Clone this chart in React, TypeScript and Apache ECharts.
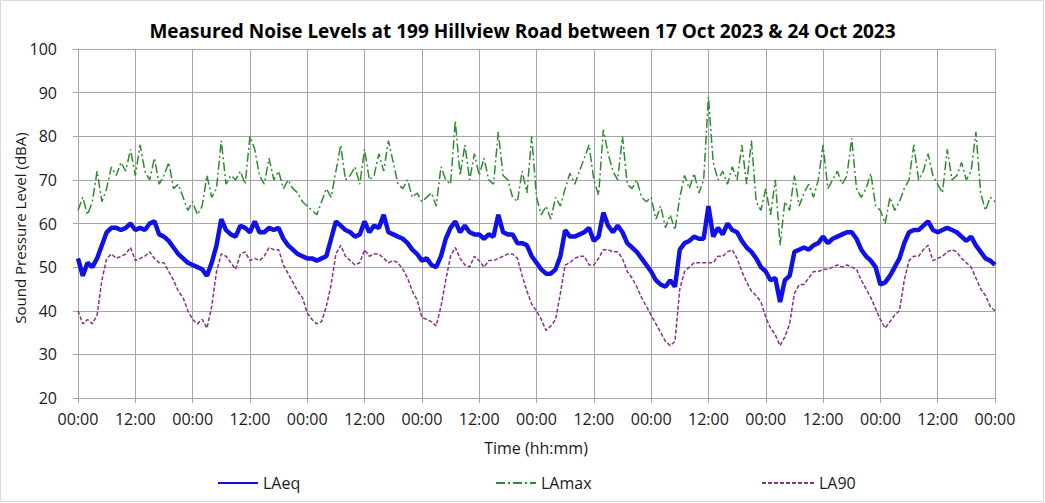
import React, { useEffect, useRef } from "react";
import * as echarts from "echarts";

const TITLE = "Measured Noise Levels at 199 Hillview Road between 17 Oct 2023 & 24 Oct 2023";
const Y_TITLE = "Sound Pressure Level (dBA)";
const X_TITLE = "Time (hh:mm)";
const seriesNames = ["LAeq", "LAmax", "LA90"];
const tickLabels = ["00:00", "12:00"];

// hourly values, 17 Oct 00:00 .. +192 h
const laeq = [
  52, 48, 51, 50, 52, 55, 58, 59, 59, 58.5, 59, 60, 58.5, 59, 58.5, 60, 60.5, 57.5, 57, 56, 54.5, 53, 52, 51,
  50.5, 50, 49.5, 48, 51, 55, 61, 58.5, 57.5, 57, 59.5, 59, 58, 60.5, 58, 58, 59, 58.5, 59, 56.5, 55, 54, 53, 52.5,
  52, 52, 51.5, 52, 52.5, 56.5, 60.5, 59.5, 58.5, 58, 57, 57.5, 60.5, 58, 59.5, 59, 62, 58, 57.5, 57, 56.5, 55.5, 54, 53,
  51.5, 52, 50.5, 50, 52.5, 56.5, 59, 60.5, 58, 59.5, 58, 57.5, 57.5, 56.5, 57.5, 57, 62, 58, 57.5, 57.5, 55.5, 55.5, 55, 52.5,
  51, 49.5, 48.5, 48.5, 49.5, 52.5, 58.5, 57, 57, 57.5, 58, 59, 56, 57, 62.5, 59.5, 58, 59.5, 58, 55.5, 54.5, 53.5, 52, 50.5,
  49, 47, 46, 45.5, 47, 45.5, 54, 55.5, 56, 57, 56.5, 56.5, 64, 57, 59, 57.5, 60, 58.5, 58, 56, 54.5, 53.5, 52, 50,
  49, 47, 47.5, 42, 47, 48, 53.5, 54, 54.5, 54, 55, 55.5, 57, 55.5, 56.5, 57, 57.5, 58, 58, 56.5, 54, 52.5, 51.5, 50,
  46, 46.5, 48, 50, 52, 55.5, 58, 58.5, 58.5, 59.5, 60.5, 58.5, 58, 58.5, 59, 58.5, 58, 57, 56, 57, 55, 53.5, 52, 51.5, 50.5,
];

const lamax = [
  63, 66, 62, 65, 72, 65, 68, 73, 71, 74, 72, 77, 71, 78, 72, 70, 75, 69, 71, 74, 68, 69, 66, 63,
  65, 62, 64, 71, 66, 68, 79, 69, 71, 70, 72, 69, 80, 77, 71, 69, 75, 70, 72, 68, 70, 68, 67, 65,
  64, 63, 62, 65, 68, 66, 72, 78, 70, 71, 73, 69, 77, 70, 71, 76, 72, 79, 74, 69, 68, 70, 66, 67,
  65, 66, 67, 64, 73, 70, 69, 83.5, 71, 78, 70, 76, 71, 75, 70, 69, 81, 71, 70, 66, 65, 72, 67, 80,
  66, 62, 64, 61, 66, 64, 68, 71.5, 69, 72, 75, 78, 70, 66.5, 81.5, 76, 72, 70, 80, 69, 68, 70, 66, 65,
  66, 61, 64, 59, 62, 58.5, 66, 71, 68, 71.5, 67, 70, 89, 74, 70, 72, 69, 73, 70, 78, 69, 79, 65, 63,
  68, 62, 70, 55, 65, 63, 71, 64, 67, 69, 66, 70, 78, 68, 70, 72, 69, 71, 79.5, 68, 66, 68, 71.5, 64,
  63, 60, 66, 63, 65, 68, 70, 78, 70, 72, 76, 71, 69, 67, 77, 70, 71, 74, 70, 72, 81, 67, 63, 66, 65,
];

const la90 = [
  40, 37, 38, 37, 39, 47, 52, 53, 52, 52.5, 53, 54.5, 51.5, 52, 52.5, 53.5, 52, 51, 51, 49, 47, 44.5, 43, 40,
  38, 37, 38, 36, 41, 49, 53, 52.5, 51, 49.5, 53, 53.5, 51.5, 52, 51.5, 52.5, 54.5, 54, 54, 50.5, 48.5, 46.5, 44.5, 43,
  39.5, 38, 37, 37.5, 41, 46, 53, 55, 52.5, 51.5, 50.5, 51, 54, 52.5, 53, 53, 52, 51, 51.5, 51, 49.5, 47.5, 44.5, 42.5,
  38.5, 38, 37.5, 36.5, 41, 47, 52.5, 54.5, 52, 50.5, 50, 52.5, 51.5, 50, 51.5, 51.5, 52, 52.5, 53, 53, 52, 48, 44.5, 41.5,
  40, 38, 35.5, 36.5, 38, 44, 50.5, 51, 52, 52.5, 52.5, 50.5, 50.5, 52, 54, 54, 53.5, 53.5, 52, 49, 47.5, 45.5, 43, 41,
  39, 37, 35, 33, 32, 33, 45, 49, 50, 51, 51, 51, 51, 51, 52.5, 52.5, 53.5, 54, 52, 49, 46.5, 44.5, 43.5, 42,
  38.5, 36, 34.5, 32, 34, 37, 44, 46, 46, 47.5, 49, 49, 49.5, 49.5, 50, 50.5, 50, 50.5, 50, 49.5, 47, 45, 43, 40.5,
  38, 36, 37.5, 39, 40, 47, 51.5, 52.5, 52.5, 54, 55, 51.5, 52, 52.5, 53.5, 54, 53.5, 52, 51, 50, 47.5, 45, 43.5, 41, 40,
];

const FONT = "'Open Sans', 'Noto Sans', sans-serif";

export default function App() {
  const ref = useRef<HTMLDivElement>(null);
  useEffect(() => {
    if (!ref.current) return;
    const chart = echarts.init(ref.current, null, { renderer: "svg" });
    const pairs = (arr: number[]) => arr.map((v, i) => [i, v]);
    const legendBase = {
      top: 470,
      itemHeight: 14,
      itemGap: 4,
      itemStyle: { opacity: 0, borderWidth: 0 },
      textStyle: { fontFamily: FONT, fontSize: 16, color: "#1a1a1a", padding: [0, 0, 0, 0] },
    };
    chart.setOption({
      animation: false,
      backgroundColor: "#ffffff",
      title: {
        text: TITLE,
        left: "center",
        top: 16,
        textStyle: { fontFamily: FONT, fontSize: 19, fontWeight: "bold", color: "#000" },
      },
      grid: { left: 78, right: 50, top: 49, bottom: 105 },
      legend: [
        { ...legendBase, data: [seriesNames[0]], left: 212, itemWidth: 40 },
        { ...legendBase, data: [seriesNames[1]], left: 490, itemWidth: 40 },
        { ...legendBase, data: [seriesNames[2]], left: 756, itemWidth: 52 },
      ],
      xAxis: {
        type: "value",
        min: 0,
        max: 192,
        interval: 12,
        axisLine: { show: true, lineStyle: { color: "#a6a6a6" } },
        axisTick: { show: true, length: 5, lineStyle: { color: "#a6a6a6" } },
        splitLine: { show: true, lineStyle: { color: "#a6a6a6", width: 1 } },
        axisLabel: {
          margin: 13,
          fontFamily: FONT,
          fontSize: 16,
          color: "#1a1a1a",
          showMinLabel: true,
          showMaxLabel: true,
          formatter: (v: number) => (v % 24 === 0 ? tickLabels[0] : tickLabels[1]),
        },
      },
      yAxis: {
        type: "value",
        min: 20,
        max: 100,
        interval: 10,
        axisLine: { show: true, lineStyle: { color: "#a6a6a6" } },
        axisTick: { show: true, length: 5, lineStyle: { color: "#a6a6a6" } },
        splitLine: { show: true, lineStyle: { color: "#a6a6a6", width: 1 } },
        axisLabel: { margin: 21, fontFamily: FONT, fontSize: 16, color: "#1a1a1a" },
      },
      graphic: [
        {
          type: "rect",
          shape: { x: 0.5, y: 0.5, width: 1043, height: 501 },
          style: { fill: "none", stroke: "#d9d9d9", lineWidth: 1 },
          silent: true,
        },
        {
          type: "text",
          x: 20,
          y: 228,
          rotation: Math.PI / 2,
          style: {
            text: Y_TITLE,
            fontFamily: FONT,
            fontSize: 15,
            fill: "#1a1a1a",
            align: "center",
            verticalAlign: "middle",
          },
        },
        {
          type: "text",
          x: 536,
          y: 448,
          style: {
            text: X_TITLE,
            fontFamily: FONT,
            fontSize: 16,
            fill: "#1a1a1a",
            align: "center",
            verticalAlign: "middle",
          },
        },
      ],
      series: [
        {
          name: seriesNames[0],
          type: "line",
          data: pairs(laeq),
          symbol: "none",
          z: 4,
          lineStyle: { color: "#1010e8", width: 4.5 },
          itemStyle: { color: "#1010e8" },
        },
        {
          name: seriesNames[1],
          type: "line",
          data: pairs(lamax),
          symbol: "none",
          z: 3,
          lineStyle: { color: "#2e8b2e", width: 1.5, type: [9, 3, 2, 3] },
          itemStyle: { color: "#2e8b2e" },
        },
        {
          name: seriesNames[2],
          type: "line",
          data: pairs(la90),
          symbol: "none",
          z: 3,
          lineStyle: { color: "#8a2f8c", width: 1.5, type: [4, 2] },
          itemStyle: { color: "#8a2f8c" },
        },
      ],
    });
    return () => chart.dispose();
  }, []);
  return (
    <div
      ref={ref}
      style={{ position: "fixed", left: 0, top: 0, width: 1045, height: 503, background: "#fff" }}
    />
  );
}
